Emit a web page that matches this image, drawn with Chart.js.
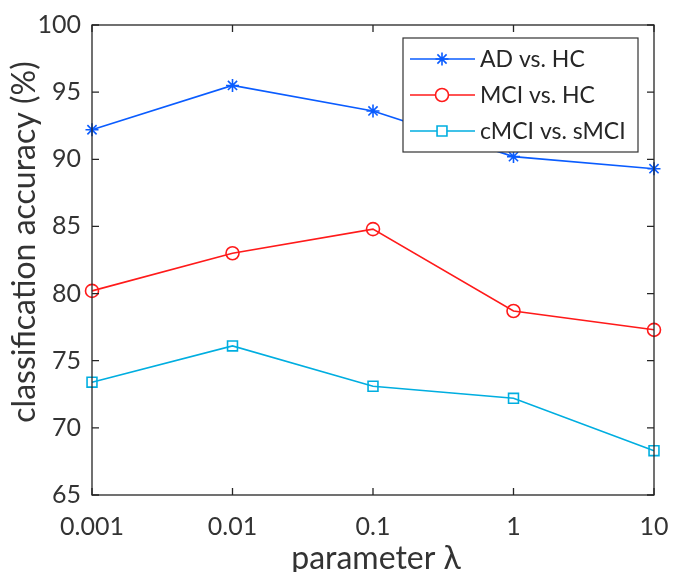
<!DOCTYPE html>
<html>
<head>
<meta charset="utf-8">
<script src="https://cdn.jsdelivr.net/npm/chart.js@4/dist/chart.umd.min.js"></script>
<style>
  html, body { margin: 0; padding: 0; background: #fff; }
  #wrap { width: 673px; height: 572px; }
</style>
</head>
<body>
<div id="wrap"><canvas id="c" width="673" height="572"></canvas></div>
<script>
const lambdas = ['0.001', '0.01', '0.1', '1', '10'];
const adVsHc = [92.2, 95.5, 93.6, 90.2, 89.3];
const mciVsHc = [80.2, 83.0, 84.8, 78.7, 77.3];
const cmciVsSmci = [73.4, 76.1, 73.1, 72.2, 68.3];
const seriesNames = ['AD vs. HC', 'MCI vs. HC', 'cMCI vs. sMCI'];
const yTicks = [65, 70, 75, 80, 85, 90, 95, 100];
const xTitle = 'parameter λ';
const yTitle = 'classification accuracy (%)';

const FONT = 'Lato, "Open Sans", sans-serif';
const TEXT = '#333333';
const AXIS = '#262626';

const boxTicks = {
  id: 'boxTicks',
  afterDatasetsDraw(chart) {
    const { ctx, chartArea: a, scales } = chart;
    ctx.save();
    ctx.strokeStyle = AXIS;
    ctx.lineWidth = 1.3;
    ctx.strokeRect(a.left, a.top, a.right - a.left, a.bottom - a.top);
    const tl = 7;
    ctx.beginPath();
    scales.x.ticks.forEach((t, i) => {
      const x = scales.x.getPixelForTick(i);
      ctx.moveTo(x, a.bottom); ctx.lineTo(x, a.bottom - tl);
      ctx.moveTo(x, a.top); ctx.lineTo(x, a.top + tl);
    });
    scales.y.ticks.forEach((t, i) => {
      const y = scales.y.getPixelForTick(i);
      ctx.moveTo(a.left, y); ctx.lineTo(a.left + tl, y);
      ctx.moveTo(a.right, y); ctx.lineTo(a.right - tl, y);
    });
    ctx.stroke();

    // axis titles
    ctx.fillStyle = TEXT;
    ctx.font = '32px ' + FONT;
    ctx.textAlign = 'center';
    ctx.textBaseline = 'alphabetic';
    ctx.fillText(xTitle, (a.left + a.right) / 2 + 3, 569);
    ctx.save();
    ctx.translate(35, 242);
    ctx.rotate(-Math.PI / 2);
    ctx.fillText(yTitle, 0, 0);
    ctx.restore();
    ctx.restore();
  }
};

const boxLegend = {
  id: 'boxLegend',
  afterDraw(chart) {
    const { ctx, chartArea: a } = chart;
    const left = a.right - 251, top = a.top + 13, w = 235, h = 114;
    ctx.save();
    ctx.fillStyle = '#fff';
    ctx.fillRect(left, top, w, h);
    ctx.strokeStyle = '#333';
    ctx.lineWidth = 1.2;
    ctx.strokeRect(left, top, w, h);
    chart.data.datasets.forEach((ds, i) => {
      const y = top + 21 + i * 36;
      ctx.strokeStyle = ds.borderColor;
      ctx.lineWidth = ds.borderWidth;
      ctx.beginPath();
      ctx.moveTo(left + 7, y); ctx.lineTo(left + 72, y);
      ctx.stroke();
      ctx.lineWidth = ds.pointBorderWidth;
      ctx.fillStyle = '#ffffff';
      Chart.helpers.drawPoint(ctx, { pointStyle: ds.pointStyle, radius: ds.pointRadius, rotation: 0, borderWidth: ds.pointBorderWidth }, left + 39, y);
      ctx.fillStyle = '#262626';
      ctx.font = '23px ' + FONT;
      ctx.textBaseline = 'middle';
      ctx.textAlign = 'left';
      ctx.fillText(ds.label, left + 77, y + 1);
    });
    ctx.restore();
  }
};

function mk(label, data, color, style, r) {
  return {
    label, data,
    borderColor: color, backgroundColor: 'rgba(0,0,0,0)',
    pointBorderColor: color, pointBackgroundColor: 'rgba(0,0,0,0)',
    borderWidth: 1.6, pointBorderWidth: 1.6,
    pointStyle: style, pointRadius: r, pointHoverRadius: r,
    tension: 0, fill: false
  };
}

function zeroPad(s) {
  s.paddingLeft = 0; s.paddingRight = 0; s.paddingTop = 0; s.paddingBottom = 0;
}

new Chart(document.getElementById('c'), {
  type: 'line',
  data: {
    labels: lambdas,
    datasets: [
      mk(seriesNames[0], adVsHc, '#0a5cff', 'star', 6.5),
      mk(seriesNames[1], mciVsHc, '#ff1a1a', 'circle', 6.5),
      mk(seriesNames[2], cmciVsSmci, '#00aee0', 'rect', 7)
    ]
  },
  options: {
    responsive: false,
    animation: false,
    layout: { padding: { left: 0, right: 19, top: 25, bottom: 0 }, autoPadding: false },
    plugins: { legend: { display: false }, tooltip: { enabled: false } },
    scales: {
      x: {
        type: 'category',
        offset: false,
        grid: { display: false, drawTicks: false },
        border: { display: false },
        ticks: { color: TEXT, font: { family: FONT, size: 25 }, padding: 17, maxRotation: 0, autoSkip: false },
        title: { display: false },
        afterFit(s) { s.height = 77; zeroPad(s); }
      },
      y: {
        min: 65, max: 100,
        afterBuildTicks(s) { s.ticks = yTicks.map(v => ({ value: v })); },
        grid: { display: false, drawTicks: false },
        border: { display: false },
        ticks: { color: TEXT, font: { family: FONT, size: 25 }, padding: 11 },
        title: { display: false },
        afterFit(s) { s.width = 92; zeroPad(s); }
      }
    }
  },
  plugins: [boxTicks, boxLegend]
});
</script>
</body>
</html>
